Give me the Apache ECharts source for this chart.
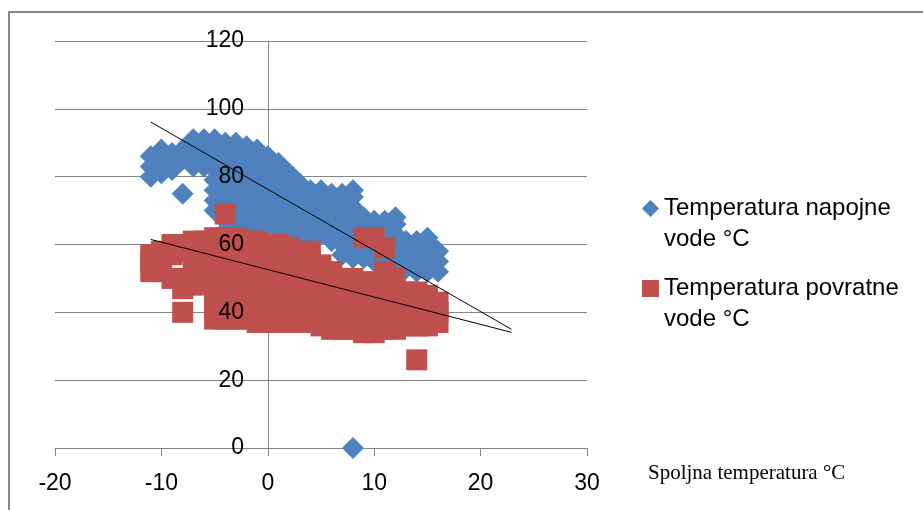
<!DOCTYPE html>
<html>
<head>
<meta charset="utf-8">
<script src="https://cdn.jsdelivr.net/npm/echarts@6/dist/echarts.min.js"></script>
<style>
  html, body { margin: 0; padding: 0; background: #fff; }
  #chart { width: 923px; height: 510px; }
</style>
</head>
<body>
<div id="chart"></div>
<script>
// tick labels / axis ranges
const xTicks = [-20, -10, 0, 10, 20, 30];
const yTicks = [0, 20, 40, 60, 80, 100, 120];

const nazivNapojna = 'Temperatura napojne vode °C';
const nazivPovratna = 'Temperatura povratne vode °C';
const nazivX = 'Spoljna temperatura °C';

// temperatura napojne vode [spoljna temp, temp vode]
const napojna = [
  [-11, 80], [-11, 83], [-11, 86],
  [-10, 81], [-10, 84], [-10, 87], [-10, 88],
  [-9, 82], [-9, 85], [-9, 87],
  [-8, 75], [-8, 85], [-8, 88],
  [-7, 83], [-7, 86], [-7, 89], [-7, 91],
  [-6, 83], [-6, 86], [-6, 89], [-6, 91],
  [-5, 70], [-5, 73], [-5, 76], [-5, 79], [-5, 82], [-5, 85], [-5, 88], [-5, 91],
  [-4, 64], [-4, 67], [-4, 72], [-4, 75], [-4, 78], [-4, 81], [-4, 84], [-4, 87], [-4, 90],
  [-3, 63], [-3, 66], [-3, 69], [-3, 72], [-3, 75], [-3, 78], [-3, 81], [-3, 84], [-3, 87], [-3, 90],
  [-2, 63], [-2, 66], [-2, 69], [-2, 72], [-2, 75], [-2, 78], [-2, 81], [-2, 84], [-2, 87], [-2, 89],
  [-1, 62], [-1, 65], [-1, 68], [-1, 71], [-1, 74], [-1, 77], [-1, 80], [-1, 83], [-1, 86], [-1, 88],
  [0, 62], [0, 65], [0, 68], [0, 71], [0, 74], [0, 77], [0, 80], [0, 83], [0, 86],
  [1, 61], [1, 64], [1, 67], [1, 70], [1, 73], [1, 76], [1, 79], [1, 82], [1, 84],
  [2, 61], [2, 64], [2, 67], [2, 70], [2, 73], [2, 76], [2, 79], [2, 81],
  [3, 60], [3, 63], [3, 66], [3, 69], [3, 72], [3, 75], [3, 78],
  [4, 61], [4, 63], [4, 66], [4, 69], [4, 72], [4, 75], [4, 76],
  [5, 63], [5, 65], [5, 68], [5, 71], [5, 74], [5, 76],
  [6, 61], [6, 64], [6, 67], [6, 70], [6, 73], [6, 75],
  [7, 57], [7, 60], [7, 63], [7, 66], [7, 69], [7, 72], [7, 75],
  [8, 56], [8, 59], [8, 62], [8, 65], [8, 68], [8, 71], [8, 74], [8, 76],
  [9, 56], [9, 59], [9, 62], [9, 65], [9, 68],
  [10, 55], [10, 58], [10, 61], [10, 64], [10, 67],
  [11, 55], [11, 58], [11, 61], [11, 64], [11, 67],
  [12, 54], [12, 57], [12, 60], [12, 63], [12, 66], [12, 68],
  [13, 53], [13, 56], [13, 59], [13, 61],
  [14, 52], [14, 55], [14, 58], [14, 61],
  [15, 52], [15, 55], [15, 58], [15, 61], [15, 62],
  [16, 52], [16, 55], [16, 58],
  [8, 0]
];

// temperatura povratne vode [spoljna temp, temp vode]
const povratna = [
  [-11, 52], [-11, 55], [-11, 57],
  [-10, 52], [-10, 55], [-10, 58],
  [-9, 50], [-9, 57], [-9, 60],
  [-8, 40], [-8, 47], [-8, 50], [-8, 58], [-8, 60],
  [-7, 48], [-7, 51], [-7, 56], [-7, 59], [-7, 61],
  [-6, 49], [-6, 52], [-6, 55], [-6, 58], [-6, 61],
  [-5, 38], [-5, 41], [-5, 44], [-5, 47], [-5, 50], [-5, 53], [-5, 56], [-5, 59], [-5, 62],
  [-4, 38], [-4, 41], [-4, 44], [-4, 47], [-4, 50], [-4, 53], [-4, 56], [-4, 59], [-4, 62], [-4, 69],
  [-3, 38], [-3, 41], [-3, 44], [-3, 47], [-3, 50], [-3, 53], [-3, 56], [-3, 59], [-3, 62],
  [-2, 38], [-2, 41], [-2, 44], [-2, 47], [-2, 50], [-2, 53], [-2, 56], [-2, 59], [-2, 61],
  [-1, 37], [-1, 40], [-1, 43], [-1, 46], [-1, 49], [-1, 52], [-1, 55], [-1, 58], [-1, 61],
  [0, 37], [0, 40], [0, 43], [0, 46], [0, 49], [0, 52], [0, 55], [0, 58], [0, 60],
  [1, 37], [1, 40], [1, 43], [1, 46], [1, 49], [1, 52], [1, 55], [1, 58], [1, 60],
  [2, 37], [2, 40], [2, 43], [2, 46], [2, 49], [2, 52], [2, 55], [2, 58], [2, 59],
  [3, 37], [3, 40], [3, 43], [3, 46], [3, 49], [3, 52], [3, 55], [3, 58],
  [4, 37], [4, 40], [4, 43], [4, 46], [4, 49], [4, 52], [4, 55], [4, 58],
  [5, 36], [5, 39], [5, 42], [5, 45], [5, 48], [5, 51], [5, 54],
  [6, 35], [6, 38], [6, 41], [6, 44], [6, 47], [6, 50], [6, 52],
  [7, 35], [7, 38], [7, 41], [7, 44], [7, 47], [7, 50],
  [8, 35], [8, 38], [8, 41], [8, 44], [8, 47], [8, 50],
  [9, 34], [9, 37], [9, 40], [9, 43], [9, 46], [9, 49], [9, 62],
  [10, 34], [10, 37], [10, 40], [10, 43], [10, 46], [10, 49], [10, 62],
  [11, 35], [11, 38], [11, 41], [11, 44], [11, 47], [11, 50], [11, 52], [11, 59],
  [12, 35], [12, 38], [12, 41], [12, 44], [12, 47], [12, 50],
  [13, 36], [13, 39], [13, 42], [13, 45], [13, 46],
  [14, 26], [14, 36], [14, 39], [14, 42], [14, 45], [14, 46],
  [15, 36], [15, 39], [15, 42], [15, 45],
  [16, 37], [16, 40], [16, 43]
];

// linearni trend (Excel trendline, produžen naprijed)
const trendNapojna = [[-11, 96.1], [22.9, 35.0]];
const trendPovratna = [[-11, 61.5], [22.9, 34.1]];

const chart = echarts.init(document.getElementById('chart'));

const option = {
    animation: false,
    backgroundColor: '#fff',
    textStyle: { fontFamily: 'Liberation Sans' },
    grid: { left: 55, right: 336, top: 41, bottom: 62, containLabel: false, outerBoundsMode: 'none' },
    graphic: [{
        type: 'rect',
        silent: true,
        z: -10,
        shape: { x: 9, y: 12, width: 1000, height: 600 },
        style: { fill: 'none', stroke: '#868686', lineWidth: 2 }
    }],
    legend: {
        orient: 'vertical',
        left: 642,
        top: 162,
        padding: 0,
        itemGap: -13,
        itemWidth: 17,
        itemHeight: 17,
        selectedMode: false,
        data: [
            { name: nazivNapojna, icon: 'diamond' },
            { name: nazivPovratna, icon: 'rect' }
        ],
        // prazan red iznad, da ikona stoji uz prvi red teksta
        formatter: name => '\n' + name.replace(' vode', '\nvode'),
        textStyle: {
            fontFamily: 'Liberation Sans',
            fontSize: 24,
            lineHeight: 31,
            color: '#000'
        }
    },
    xAxis: {
        type: 'value',
        min: xTicks[0],
        max: xTicks[xTicks.length - 1],
        interval: 10,
        name: nazivX,
        nameLocation: 'end',
        nameGap: 61,
        nameTextStyle: {
            fontFamily: 'Liberation Serif',
            fontSize: 21,
            color: '#000',
            align: 'left',
            verticalAlign: 'top',
            lineHeight: 50
        },
        axisLine: { onZero: true, lineStyle: { color: '#868686', width: 1 } },
        axisTick: { show: true, length: 8, lineStyle: { color: '#868686' } },
        axisLabel: { fontSize: 23, color: '#000', margin: 24 },
        splitLine: { show: false }
    },
    yAxis: [
        {
            // linija osi i mreža (ispod tačaka)
            type: 'value',
            min: yTicks[0],
            max: yTicks[yTicks.length - 1],
            interval: 20,
            offset: -213,
            axisLine: { show: true, onZero: false, lineStyle: { color: '#868686', width: 1 } },
            axisTick: { show: false },
            axisLabel: { show: false },
            splitLine: { show: true, lineStyle: { color: '#868686', width: 1 } }
        },
        {
            // oznake osi (iznad tačaka, kao u Excelu)
            type: 'value',
            min: yTicks[0],
            max: yTicks[yTicks.length - 1],
            interval: 20,
            offset: -213,
            position: 'left',
            z: 10,
            axisLine: { show: false, onZero: false },
            axisTick: { show: false },
            axisLabel: { fontSize: 23, color: '#000', margin: 24 },
            splitLine: { show: false }
        }
    ],
    series: [
        {
            name: nazivNapojna,
            type: 'scatter',
            symbol: 'diamond',
            symbolSize: 22,
            itemStyle: { color: '#4F81BD', opacity: 1 },
            data: napojna
        },
        {
            name: nazivPovratna,
            type: 'scatter',
            symbol: 'rect',
            symbolSize: 21,
            itemStyle: { color: '#C0504D', opacity: 1 },
            data: povratna
        },
        {
            name: 'trend napojna',
            type: 'line',
            symbol: 'none',
            silent: true,
            lineStyle: { color: '#000', width: 1 },
            data: trendNapojna
        },
        {
            name: 'trend povratna',
            type: 'line',
            symbol: 'none',
            silent: true,
            lineStyle: { color: '#000', width: 1 },
            data: trendPovratna
        }
    ]
};

chart.setOption(option);
window.addEventListener('resize', () => {
    chart.resize();
});
</script>
</body>
</html>
